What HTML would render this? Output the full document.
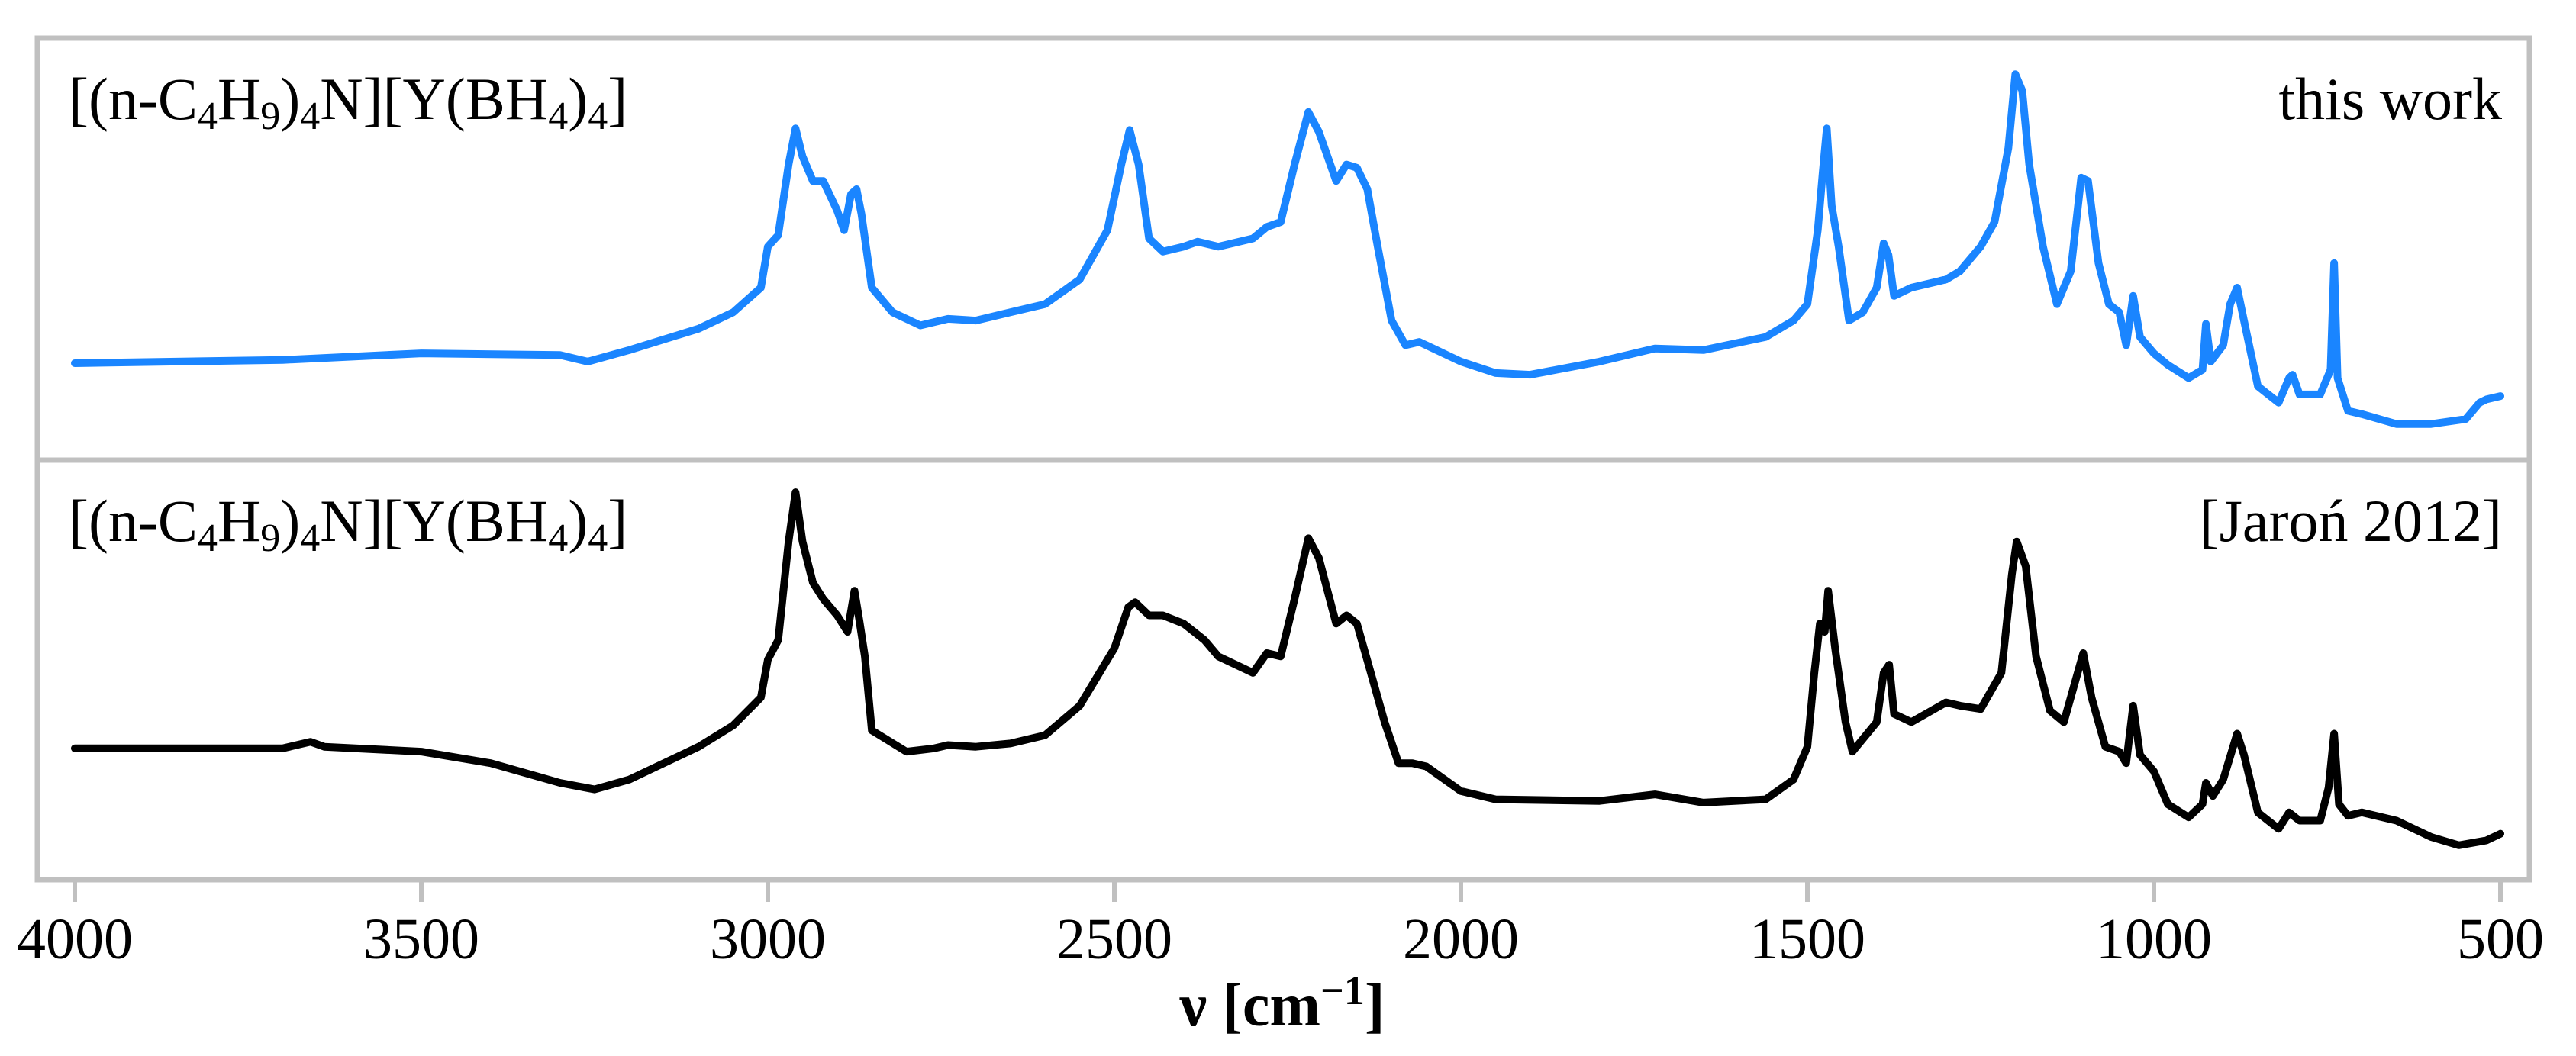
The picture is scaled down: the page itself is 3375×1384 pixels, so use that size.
<!DOCTYPE html>
<html><head><meta charset="utf-8"><style>
html,body{margin:0;padding:0;background:#fff;}
svg{display:block;font-family:"Liberation Serif",serif;}
</style></head><body>
<svg id="chart" width="3375" height="1384" viewBox="0 0 3375 1384" xmlns="http://www.w3.org/2000/svg">
<rect x="0" y="0" width="3375" height="1384" fill="#fff"/>
<g id="frame">
<rect x="49" y="50" width="3265" height="1103" fill="none" stroke="#c0c0c0" stroke-width="7"/>
<line x1="49" y1="603" x2="3314" y2="603" stroke="#c0c0c0" stroke-width="7"/>
</g>
<g id="ticks"></g>
<g id="series"></g>
<text x="90" y="156" font-size="78" fill="#000">[(n-C<tspan font-size="52" dy="13">4</tspan><tspan dy="-13">H</tspan><tspan font-size="52" dy="13">9</tspan><tspan dy="-13">)</tspan><tspan font-size="52" dy="13">4</tspan><tspan dy="-13">N][Y(BH</tspan><tspan font-size="52" dy="13">4</tspan><tspan dy="-13">)</tspan><tspan font-size="52" dy="13">4</tspan><tspan dy="-13">]</tspan></text>
<text x="3278" y="156" font-size="78" text-anchor="end" fill="#000">this work</text>
<text x="90" y="709" font-size="78" fill="#000">[(n-C<tspan font-size="52" dy="13">4</tspan><tspan dy="-13">H</tspan><tspan font-size="52" dy="13">9</tspan><tspan dy="-13">)</tspan><tspan font-size="52" dy="13">4</tspan><tspan dy="-13">N][Y(BH</tspan><tspan font-size="52" dy="13">4</tspan><tspan dy="-13">)</tspan><tspan font-size="52" dy="13">4</tspan><tspan dy="-13">]</tspan></text>
<text x="3278" y="709" font-size="78" text-anchor="end" fill="#000">[Jaroń 2012]</text>
<text x="1680" y="1344" font-size="80" font-weight="bold" text-anchor="middle" fill="#000">ν [cm<tspan font-size="54" dy="-28">−1</tspan><tspan dy="28">]</tspan></text>
</svg>
<script>
const tickValues = [4000,3500,3000,2500,2000,1500,1000,500];
const tickLabels = ["4000","3500","3000","2500","2000","1500","1000","500"];
const thisWorkWavenumbers = [4000,3700,3500,3300,3260,3200,3100,3050,3010,3000,2985,2970,2960,2950,2935,2920,2900,2890,2880,2872,2865,2850,2820,2780,2740,2700,2650,2600,2550,2510,2490,2478,2465,2450,2430,2400,2380,2350,2300,2280,2260,2240,2220,2205,2180,2165,2150,2135,2120,2100,2080,2060,2040,2000,1950,1900,1800,1720,1650,1560,1520,1500,1485,1478,1472,1465,1455,1440,1420,1400,1390,1383,1375,1350,1300,1280,1250,1230,1210,1200,1190,1180,1160,1140,1120,1105,1095,1080,1065,1050,1040,1030,1020,1000,980,950,930,925,918,900,890,880,870,850,820,805,800,790,760,745,740,735,720,700,650,600,550,530,520,500];
const thisWorkAbsorbance = [59,61,65,64,60,67,80,90,105,130,137,180,202,185,170,170,152,140,162,165,150,105,90,82,86,85,90,95,110,140,180,201,180,135,127,130,133,130,135,142,145,180,212,200,170,180,178,165,130,85,70,72,68,60,53,52,60,68,67,75,85,95,140,175,202,155,130,85,90,105,132,125,100,105,110,115,130,145,190,235,225,180,130,95,115,172,170,120,95,90,70,100,75,65,58,50,55,83,60,70,95,105,85,45,35,50,52,40,40,55,120,50,30,28,22,22,25,35,37,39];
const jaronWavenumbers = [4000,3700,3660,3640,3500,3400,3300,3250,3200,3100,3050,3010,3000,2985,2970,2960,2950,2935,2920,2900,2885,2875,2868,2860,2850,2800,2760,2740,2700,2650,2600,2550,2500,2480,2470,2450,2430,2400,2370,2350,2300,2280,2260,2240,2220,2205,2180,2165,2150,2130,2110,2090,2070,2050,2000,1950,1800,1720,1650,1560,1520,1500,1490,1482,1475,1470,1460,1445,1435,1400,1390,1382,1375,1350,1300,1280,1250,1220,1205,1198,1185,1170,1150,1130,1110,1102,1090,1070,1050,1040,1030,1020,1000,980,950,930,925,915,900,880,870,850,820,805,790,760,748,740,733,720,700,650,600,560,520,500];
const jaronAbsorbance = [80,80,84,81,78,71,59,55,61,81,94,111,134,146,206,236,206,181,171,161,151,176,158,136,91,78,80,82,81,83,88,106,141,166,169,161,161,156,146,136,126,138,136,171,208,196,156,161,156,126,96,71,71,69,54,49,48,52,47,49,61,81,126,156,151,176,141,96,78,96,126,131,101,96,108,106,104,126,186,206,191,136,103,96,126,138,111,81,78,71,106,76,66,46,38,46,59,51,61,89,76,41,31,41,36,36,56,89,46,39,41,36,26,21,24,28];

const svgNS = "http://www.w3.org/2000/svg";
const X0 = 98, PX_PER = 0.908;
function xScale(w){ return X0 + (4000 - w) * PX_PER; }
const SY = 2.152;
function yTop(v){ return 603 - v * SY; }
function yBottom(v){ return 1153 - v * SY; }

const tg = document.getElementById('ticks');
tickValues.forEach((t,i)=>{
  const x = xScale(t);
  const ln = document.createElementNS(svgNS,'line');
  ln.setAttribute('x1',x); ln.setAttribute('x2',x);
  ln.setAttribute('y1',1156); ln.setAttribute('y2',1182);
  ln.setAttribute('stroke','#c0c0c0'); ln.setAttribute('stroke-width','6');
  
  
  tg.appendChild(ln);
  const tx = document.createElementNS(svgNS,'text');
  tx.setAttribute('x',x); tx.setAttribute('y',1256);
  tx.setAttribute('font-size','76'); tx.setAttribute('text-anchor','middle');
  tx.textContent = tickLabels[i];
  
  
  tg.appendChild(tx);
});

function drawLine(ws, vs, yf, color, name){
  const d = ws.map((w,i)=>(i?'L':'M')+xScale(w).toFixed(1)+','+yf(vs[i]).toFixed(1)).join(' ');
  const p = document.createElementNS(svgNS,'path');
  p.setAttribute('d',d); p.setAttribute('fill','none');
  p.setAttribute('stroke',color); p.setAttribute('stroke-width','10');
  p.setAttribute('stroke-linejoin','round'); p.setAttribute('stroke-linecap','round');
  
  
  document.getElementById('series').appendChild(p);
}
drawLine(thisWorkWavenumbers, thisWorkAbsorbance, yTop, '#1a85ff', 'this-work-spectrum');
drawLine(jaronWavenumbers, jaronAbsorbance, yBottom, '#000000', 'jaron-2012-spectrum');
</script>
</body></html>
